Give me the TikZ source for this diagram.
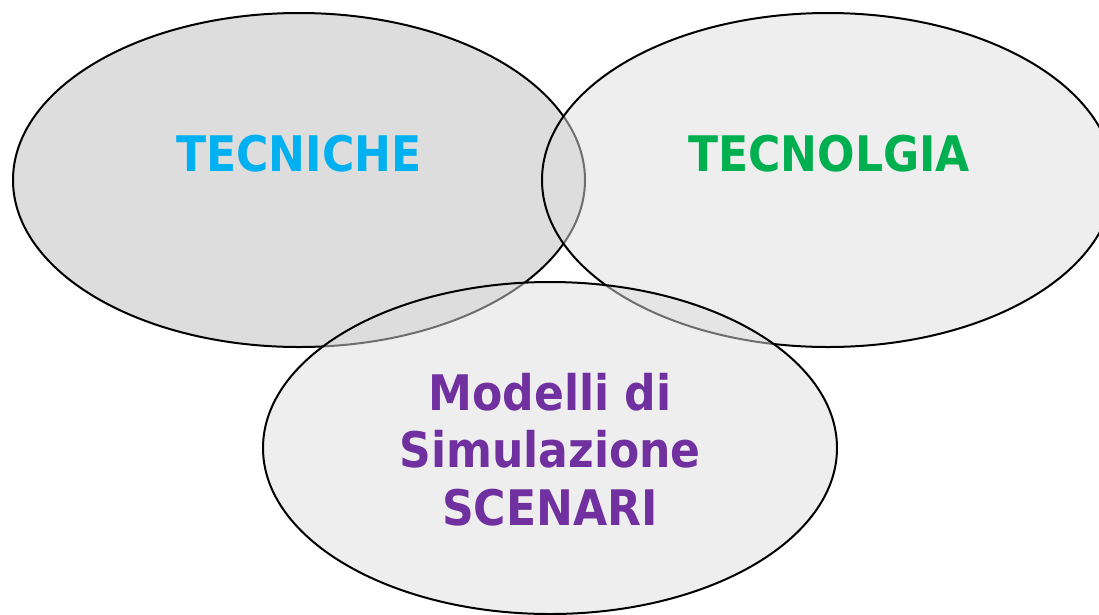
\documentclass[tikz,border=0pt]{standalone}
\usepackage{fontspec}
\newfontfamily\labelfont{DejaVu Sans Condensed}
\definecolor{cyanT}{HTML}{00B0F0}
\definecolor{greenT}{HTML}{00B050}
\definecolor{purpleT}{HTML}{7030A0}
\definecolor{greyfill}{HTML}{DDDDDD}
\begin{document}
\begin{tikzpicture}[x=1pt,y=-1pt,
  setshape/.style={draw=black,line width=2pt},
  solidset/.style={setshape,fill=greyfill},
  glassset/.style={setshape,fill=greyfill,fill opacity=0.5},
  setlabel/.style={font=\labelfont\bfseries\fontsize{49}{57.5}\selectfont,align=center,inner sep=0pt,anchor=base}]
\useasboundingbox (0,0) rectangle (1099,614);
\begin{scope}
\clip (0,0) rectangle (1099,614);
\path[solidset] (299,180) ellipse [x radius=286, y radius=167];
\path[glassset] (828,180) ellipse [x radius=286, y radius=167];
\path[glassset] (550,448) ellipse [x radius=287, y radius=166];
\end{scope}
\node[setlabel,text=cyanT] (tecniche) at (299,171) {TECNICHE};
\node[setlabel,text=greenT] (tecnologia) at (829,171) {TECNOLGIA};
\node[setlabel,text=purpleT,anchor=north] (modelli) at (550,373) {Modelli di\\Simulazione\\SCENARI};
\end{tikzpicture}
\end{document}
